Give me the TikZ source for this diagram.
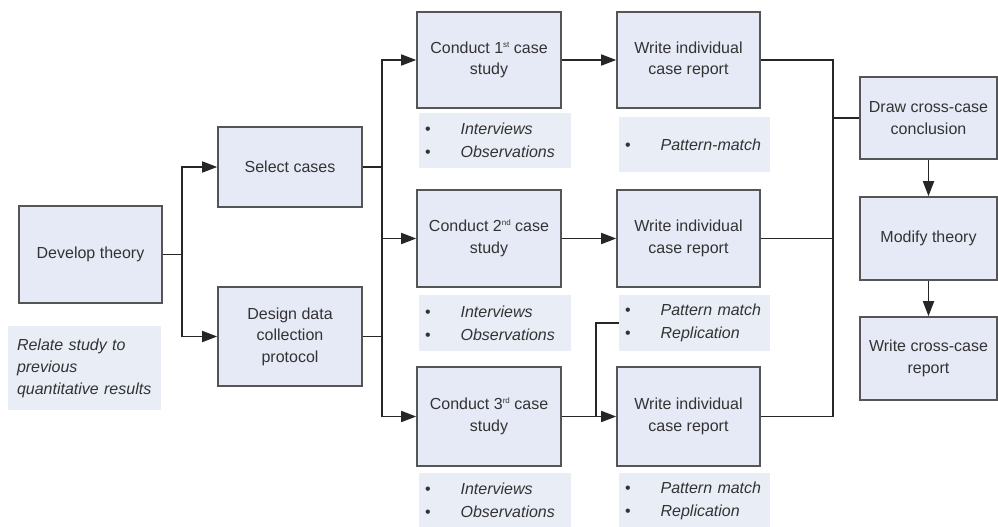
\documentclass[tikz,border=0pt]{standalone}
\usepackage{fontspec}
\setmainfont{Liberation Sans}
\usetikzlibrary{arrows.meta}
\definecolor{boxfill}{HTML}{E6EAF6}
\definecolor{notefill}{HTML}{E9EDF6}
\definecolor{boxline}{HTML}{555555}
\definecolor{txt}{HTML}{333333}
\newcommand{\supx}[1]{\raisebox{6pt}{\fontsize{8}{8}\selectfont #1}}
\newcommand{\bul}{\upshape\textbullet\hspace{30pt}\itshape}
\begin{document}
\begin{tikzpicture}[x=1pt,y=-1pt,
  procbox/.style={draw=boxline, line width=1.6pt, fill=boxfill, text=txt, align=center,
    inner sep=0pt, font=\fontsize{16}{21.5}\selectfont},
  notebox/.style={fill=notefill, text=txt, align=left, inner xsep=6pt, inner ysep=0pt,
    font=\fontsize{16}{23}\selectfont\itshape},
  conn/.style={line width=1.7pt, black!85},
  arr/.style={conn, -{Triangle[length=15pt,width=11pt]}}]
\useasboundingbox (0,0) rectangle (998,527);
% process boxes
\node[procbox, minimum width=143pt, minimum height=97pt] (dev) at (90.5,254.5) {Develop theory};
\node[procbox, minimum width=144pt, minimum height=80pt] (sel) at (290,167) {Select cases};
\node[procbox, minimum width=144pt, minimum height=99pt] (des) at (290,336.5) {Design data\\collection\\protocol};
\node[procbox, minimum width=144pt, minimum height=96pt] (c1) at (489,60) {Conduct 1\supx{st} case\\study};
\node[procbox, minimum width=143pt, minimum height=96pt] (w1) at (688.5,60) {Write individual\\case report};
\node[procbox, minimum width=144pt, minimum height=97pt] (c2) at (489,238.5) {Conduct 2\supx{nd} case\\study};
\node[procbox, minimum width=143pt, minimum height=97pt] (w2) at (688.5,238.5) {Write individual\\case report};
\node[procbox, minimum width=144pt, minimum height=99pt] (c3) at (489,416.5) {Conduct 3\supx{rd} case\\study};
\node[procbox, minimum width=143pt, minimum height=99pt] (w3) at (688.5,416.5) {Write individual\\case report};
\node[procbox, minimum width=137pt, minimum height=82pt] (dc) at (928.5,118) {Draw cross-case\\conclusion};
\node[procbox, minimum width=137pt, minimum height=83pt] (mt) at (928.5,238.5) {Modify theory};
\node[procbox, minimum width=137pt, minimum height=83pt] (wc) at (928.5,358.5) {Write cross-case\\report};
% notes
\node[notebox, inner xsep=9pt, text width=135pt, minimum height=84pt, font=\fontsize{16}{22}\selectfont\itshape] (rel) at (84.5,368) {Relate study to\\previous\\quantitative results};
\node[notebox, text width=140pt, minimum height=55pt] (b1a) at (495,140.5) {\bul Interviews\\\bul Observations};
\node[notebox, text width=139pt, minimum height=55pt] (b1b) at (694.5,144.5) {\bul Pattern-match};
\node[notebox, text width=140pt, minimum height=56pt] (b2a) at (495,323) {\bul Interviews\\\bul Observations};
\node[notebox, text width=139pt, minimum height=56pt] (b2b) at (694.5,323) {\bul Pattern match\\\bul Replication};
\node[notebox, text width=140pt, minimum height=55pt] (b3a) at (495,500.5) {\bul Interviews\\\bul Observations};
\node[notebox, text width=139pt, minimum height=55pt] (b3b) at (694.5,500.5) {\bul Pattern match\\\bul Replication};
% connectors left
\coordinate (ja) at (182,254.5);
\draw[conn] (dev.east) -- (ja);
\draw[arr] (ja) |- (sel.west);
\draw[arr] (ja) |- (des.west);
\coordinate (jb) at (382,238.5);
\draw[conn] (sel.east) -- (sel.east -| jb);
\draw[conn] (des.east) -- (des.east -| jb);
\draw[conn, line cap=rect] (c1.west -| jb) -- (c3.west -| jb);
\draw[arr] (c1.west -| jb) -- (c1.west);
\draw[arr] (c2.west -| jb) -- (c2.west);
\draw[arr] (c3.west -| jb) -- (c3.west);
% middle
\draw[arr] (c1) -- (w1);
\draw[arr] (c2) -- (w2);
\draw[arr] (c3) -- (w3);
\coordinate (jd) at (596,416.5);
\draw[conn] (b2b.west) -| (jd);
% right
\coordinate (jc) at (833,118);
\draw[conn] (w1.east) -- (w1.east -| jc);
\draw[conn] (w2.east) -- (w2.east -| jc);
\draw[conn] (w3.east) -- (w3.east -| jc);
\draw[conn, line cap=rect] (w1.east -| jc) -- (w3.east -| jc);
\draw[conn] (jc) -- (dc.west);
\draw[arr] (dc) -- (mt);
\draw[arr] (mt) -- (wc);
\end{tikzpicture}
\end{document}
